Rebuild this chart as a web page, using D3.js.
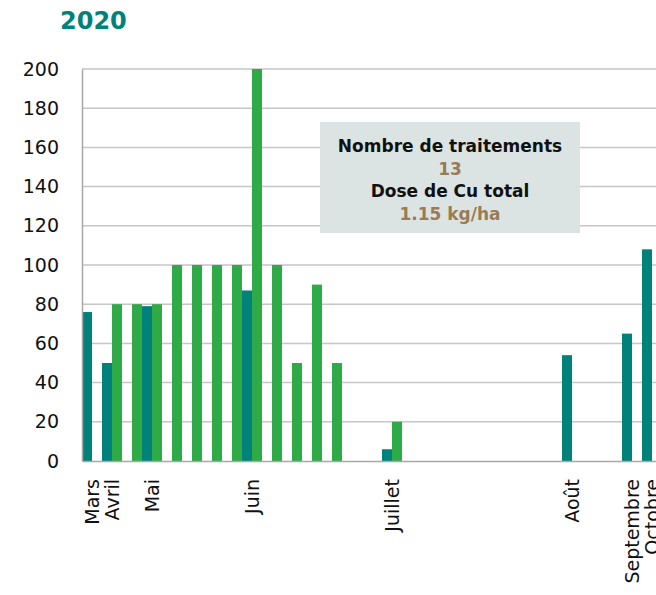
<!DOCTYPE html>
<html>
<head>
<meta charset="utf-8">
<script src="https://d3js.org/d3.v7.min.js"></script>
<style>
  body { margin: 0; background: #fff; }
  svg { display: block; font-family: "DejaVu Sans", sans-serif; }
</style>
</head>
<body>
<div id="chart"></div>
<script>
// one slot per date, month name on the first date of each month
const tickLabels = ["Mars", "Avril", "", "Mai", "", "", "", "", "Juin", "", "", "", "", "", "",
  "Juillet", "", "", "", "", "", "", "", "", "Août", "", "", "Septembre", "Octobre"]
const rain = [76, 50, 0, 79, 0, 0, 0, 0, 87, 0, 0, 0, 0, 0, 0,
  6, 0, 0, 0, 0, 0, 0, 0, 0, 54, 0, 0, 65, 108]
const cuDose = [0, 80, 80, 80, 100, 100, 100, 100, 200, 100, 50, 90, 50, 0, 0,
  20, 0, 0, 0, 0, 0, 0, 0, 0, 0, 0, 0, 0, 0]
const series = ['rain', 'cu']
const yTicks = [0, 20, 40, 60, 80, 100, 120, 140, 160, 180, 200]
const infoLines = ["Nombre de traitements", "13", "Dose de Cu total", "1.15 kg/ha"]

const w = 656
const h = 595
const teal = '#00827b'
const green = '#2eaa47'

const chartData = tickLabels.map((label, i) => ({ i: i, label: label, rain: rain[i], cu: cuDose[i] }))

const svg = d3.select('#chart')
  .append('svg')
  .attr('width', w)
  .attr('height', h)

const margin = { top: 69, left: 82, bottom: 461 }

const xScale = d3.scaleBand()
  .domain(chartData.map(d => d.i))
  .range([margin.left, margin.left + 20 * chartData.length])
  .padding(0)

const xSub = d3.scaleBand()
  .domain(series)
  .range([0, xScale.bandwidth()])

const yScale = d3.scaleLinear()
  .domain([0, 200])
  .range([margin.bottom, margin.top])

// grid
svg.append('g')
  .selectAll('line')
  .data(yTicks.slice(1))
  .enter()
  .append('line')
  .attr('x1', margin.left)
  .attr('x2', w)
  .attr('y1', d => yScale(d))
  .attr('y2', d => yScale(d))
  .attr('stroke', '#c6c6c6')
  .attr('stroke-width', 1.5)

// bars
const groups = svg.append('g')
  .selectAll('g')
  .data(chartData)
  .enter()
  .append('g')
  .attr('transform', d => 'translate(' + xScale(d.i) + ',0)')

groups.selectAll('rect')
  .data(d => series.map(k => ({ key: k, value: d[k] })).filter(s => s.value > 0))
  .enter()
  .append('rect')
  .attr('x', s => xSub(s.key))
  .attr('y', s => yScale(s.value))
  .attr('width', xSub.bandwidth())
  .attr('height', s => yScale(0) - yScale(s.value))
  .attr('fill', s => s.key === 'rain' ? teal : green)

// axes
const yAxis = d3.axisLeft(yScale).tickValues(yTicks).tickSize(0).tickPadding(23)
svg.append('g')
  .attr('transform', 'translate(' + margin.left + ',0)')
  .call(yAxis)
  .call(g => g.select('.domain').attr('stroke', '#a8a8a8').attr('stroke-width', 1.5))
  .selectAll('text')
  .attr('font-size', 19)
  .attr('font-family', '"DejaVu Sans", sans-serif')
  .attr('fill', '#111')

const xAxis = d3.axisBottom(xScale).tickSize(0).tickFormat(i => tickLabels[i])
svg.append('g')
  .attr('transform', 'translate(0,' + margin.bottom + ')')
  .call(xAxis)
  .call(g => g.select('.domain').attr('stroke', '#a8a8a8').attr('stroke-width', 1.5))
  .selectAll('text')
  .attr('font-size', 19)
  .attr('font-family', '"DejaVu Sans", sans-serif')
  .attr('fill', '#111')
  .attr('text-anchor', 'end')
  .attr('transform', 'rotate(-90)')
  .attr('x', -18)
  .attr('y', 0)
  .attr('dy', '0.35em')

// title
svg.append('text')
  .attr('x', 60)
  .attr('y', 29)
  .attr('font-size', 24)
  .attr('font-weight', 700)
  .attr('fill', teal)
  .text('2020')

// info box
svg.append('rect')
  .attr('x', 320)
  .attr('y', 122)
  .attr('width', 260)
  .attr('height', 111)
  .attr('fill', '#dbe4e2')

svg.append('g')
  .selectAll('text')
  .data(infoLines)
  .enter()
  .append('text')
  .attr('x', 450)
  .attr('y', (d, i) => 152 + i * 22.7)
  .attr('text-anchor', 'middle')
  .attr('font-size', 17)
  .attr('font-weight', 700)
  .attr('fill', (d, i) => i % 2 ? '#9a7b55' : '#111')
  .text(d => d)
</script>
</body>
</html>
